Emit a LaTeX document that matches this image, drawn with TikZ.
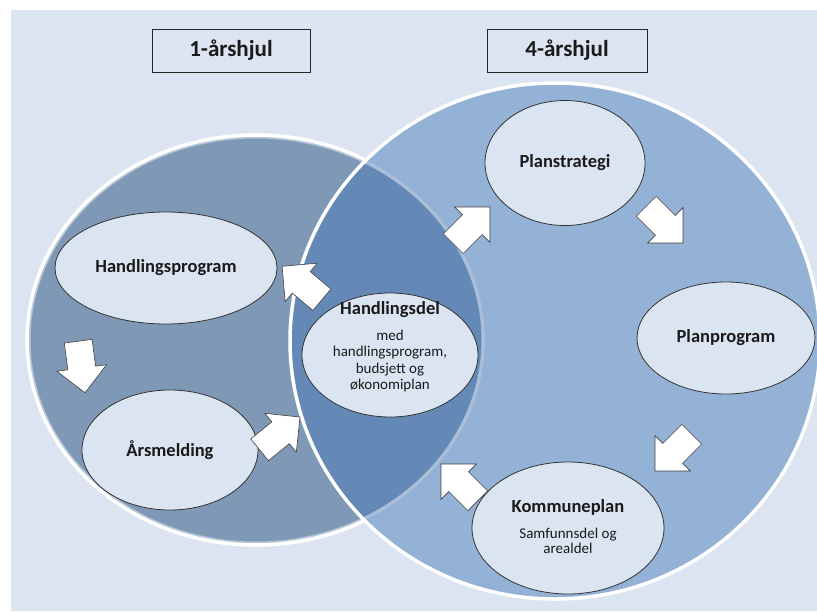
\documentclass[tikz,border=0pt]{standalone}
\usepackage{fontspec}
\setmainfont{Carlito}
\usetikzlibrary{shapes.geometric}

\definecolor{bgblue}{HTML}{DBE4F0}
\definecolor{oneyear}{HTML}{7E98B6}
\definecolor{fouryear}{HTML}{94B2D6}
\definecolor{bothyears}{HTML}{6589B7}
\definecolor{bubblefill}{HTML}{DBE5F1}
\definecolor{inktext}{HTML}{1A1A1A}

\begin{document}
\begin{tikzpicture}[x=1pt,y=-1pt,
  bubble/.style={ellipse, draw=black!80, line width=0.8pt, fill=bubblefill,
    inner sep=0pt, font=\bfseries\fontsize{18.5}{20}\selectfont, text=inktext},
  heading/.style={font=\bfseries\fontsize{18.5}{20}\selectfont, text=inktext,
    inner sep=0pt, anchor=base},
  subline/.style={font=\fontsize{15}{17}\selectfont, text=inktext,
    inner sep=0pt, anchor=base},
  titlebox/.style={draw=black!85, line width=0.8pt, fill=bgblue,
    minimum height=43pt, inner sep=0pt,
    font=\bfseries\fontsize{23}{26}\selectfont, text=inktext},
  arrowbody/.style={draw=black!75, line width=0.6pt, fill=white, line join=miter},
  % block arrow centred on its own origin, pointing along +x (52 long, head 50 wide, shaft 28 wide)
  pics/blockarrow/.style={code={
    \draw[arrowbody] (-26,-14) -- (1,-14) -- (1,-25) -- (26,0) -- (1,25) -- (1,14) -- (-26,14) -- cycle;
  }},
]
\useasboundingbox (0,0) rectangle (817,611);

% page background
\fill[bgblue] (11,10) rectangle (817,611);

% the two wheels
\fill[oneyear] (256,340) ellipse [x radius=229pt, y radius=205pt];
\draw[white, line width=3.5pt] (256,340) ellipse [x radius=229pt, y radius=205pt];
\fill[fouryear] (555,341) ellipse [x radius=265pt, y radius=258pt];
\begin{scope}
  \clip (256,340) ellipse [x radius=229pt, y radius=205pt];
  \fill[bothyears] (555,341) ellipse [x radius=265pt, y radius=258pt];
  \draw[white, opacity=0.45, line width=7pt] (256,340) ellipse [x radius=229pt, y radius=205pt];
\end{scope}
\draw[white, line width=3.5pt] (555,341) ellipse [x radius=265pt, y radius=258pt];

% titles
\node[titlebox, minimum width=158pt] (title1) at (231,50.5) {1-årshjul};
\node[titlebox, minimum width=160pt] (title4) at (567,50.5) {4-årshjul};

% stages
\node[bubble, minimum width=160pt, minimum height=125pt] (strategi) at (565,163) {Planstrategi};
\node[bubble, minimum width=178pt, minimum height=112pt] (program) at (726,338) {Planprogram};
\node[bubble, minimum width=192pt, minimum height=132pt] (kplan) at (568,528) {};
\node[bubble, minimum width=176pt, minimum height=124pt] (hdel) at (390,355) {};
\node[bubble, minimum width=222pt, minimum height=112pt] (hprog) at (166,268) {Handlingsprogram};
\node[bubble, minimum width=176pt, minimum height=120pt] (aars) at (170,450) {Årsmelding};

% texts of the two-part stages
\node[heading] (hdel-h) at (390,314) {Handlingsdel};
\node[subline] (hdel-1) at (390,340) {med};
\node[subline] (hdel-2) at (390,356.5) {handlingsprogram,};
\node[subline] (hdel-3) at (390,373) {budsjett og};
\node[subline] (hdel-4) at (390,389.5) {økonomiplan};

\node[heading] (kplan-h) at (568,512) {Kommuneplan};
\node[subline] (kplan-1) at (568,538) {Samfunnsdel og};
\node[subline] (kplan-2) at (568,553.5) {arealdel};

% block arrows between the stages
\pic[rotate=-82.5] (a1) at (81.6,367)   {blockarrow};
\pic[rotate=39]    (a2) at (279.8,433.4) {blockarrow};
\pic[rotate=140]   (a3) at (302,283)     {blockarrow};
\pic[rotate=45]    (a4) at (471.6,225.4) {blockarrow};
\pic[rotate=-45]   (a5) at (664.6,224.6) {blockarrow};
\pic[rotate=225]   (a6) at (673.4,452.6) {blockarrow};
\pic[rotate=135]   (a7) at (459.4,482.4) {blockarrow};
\end{tikzpicture}
\end{document}
